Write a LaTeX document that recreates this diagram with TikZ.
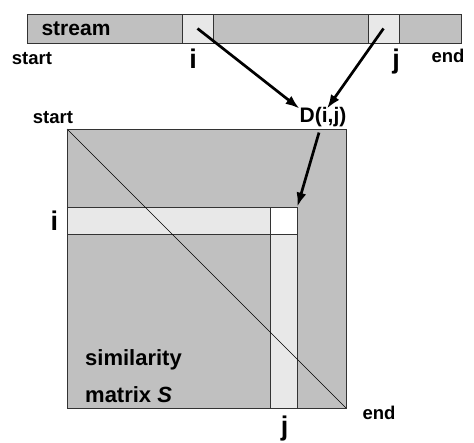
\documentclass[tikz,border=0pt]{standalone}
\usepackage{fontspec}
\setmainfont{Liberation Sans}
\usetikzlibrary{arrows.meta}
\definecolor{cellgray}{RGB}{192,192,192}
\definecolor{cellpale}{RGB}{232,232,232}

\begin{document}
\begin{tikzpicture}[x=1pt,y=-1pt]
	 \tikzstyle{bar}=[draw=black!80,fill=cellgray,line width=0.8pt]
	 \tikzstyle{pale cell}=[draw=black!80,fill=cellpale,line width=0.8pt,inner sep=0pt]
	 \tikzstyle{hit cell}=[pale cell,fill=white]
	 \tikzstyle{small label}=[font=\bfseries\fontsize{18.5}{18.5}\selectfont,inner sep=0pt,anchor=base]
	 \tikzstyle{big label}=[font=\bfseries\fontsize{21}{21}\selectfont,inner sep=0pt,anchor=base]
	 \tikzstyle{index}=[font=\bfseries\fontsize{27}{27}\selectfont,inner sep=0pt,anchor=base]
	 \tikzstyle{pointer}=[draw,line width=2.7pt,-{Latex[length=14pt,width=10pt]}]

	 \useasboundingbox (0,0) rectangle (474,442);

	 % the stream
	 \draw[bar] (27,14) rectangle (461,43);
	 \node[pale cell,minimum width=31pt,minimum height=29pt] (si) at (197.5,28.5) {};
	 \node[pale cell,minimum width=31pt,minimum height=29pt] (sj) at (383.5,28.5) {};
	 \node[big label] (stream) at (76,35) {stream};
	 \node[small label] (sstart) at (32,64) {start};
	 \node[small label] (send) at (448,62) {end};
	 \node[index] (ilab) at (193,68) {i};
	 \node[index] (jlab) at (396,68) {j};

	 % the matrix
	 \fill[cellgray] (67,129) rectangle (346,408);
	 \draw[pale cell] (67,207) rectangle (270,234);
	 \draw[pale cell] (270,234) rectangle (297,408);
	 \node[hit cell,minimum width=27pt,minimum height=27pt] (cij) at (283.5,220.5) {};
	 \draw[black,line width=0.6pt] (67,129) -- (346,408);
	 \draw[black!80,line width=0.8pt] (67,129) rectangle (346,408);
	 \node[small label] (mstart) at (53,123) {start};
	 \node[small label] (mend) at (379,419) {end};
	 \node[index] (irow) at (54.5,230) {i};
	 \node[index] (jcol) at (284.5,435) {j};
	 \node[big label,font=\bfseries\fontsize{22}{22}\selectfont,anchor=base west] (simil) at (85,365) {similarity};
	 \node[big label,font=\bfseries\fontsize{22}{22}\selectfont,anchor=base west] (matS) at (85,402) {matrix \textit{S}};

	 % the distance
	 \node[big label] (dij) at (323,122) {D(i,j)};

	 \draw[pointer] (si.center) -- ([yshift=-2pt]dij.north west);
	 \draw[pointer] (sj.center) -- ([xshift=4pt,yshift=-2pt]dij.north);
	 \draw[pointer] ([xshift=-4pt,yshift=-6pt]dij.south) -- (cij.north east);
 \end{tikzpicture}
\end{document}
